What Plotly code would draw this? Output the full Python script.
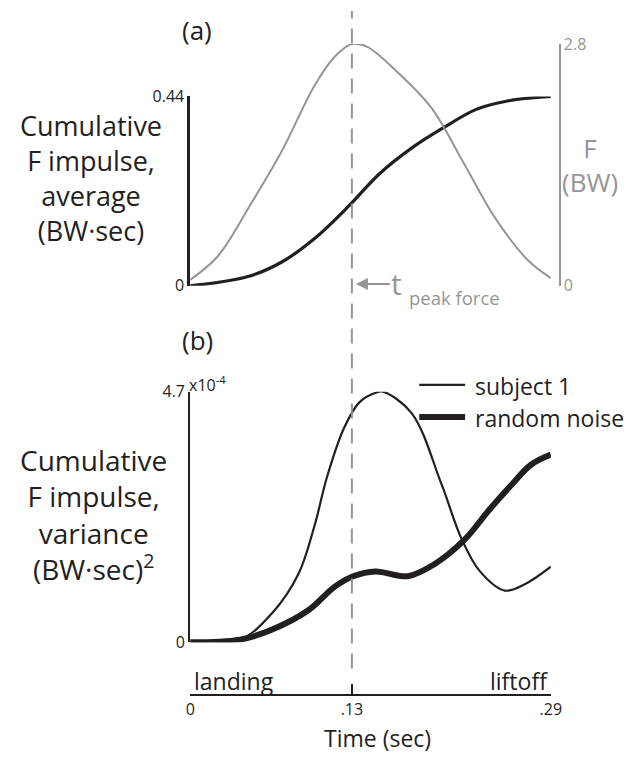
import plotly.graph_objects as go

# ---------------- data ----------------
# Panel (a): ground reaction force (BW) and cumulative impulse average (BW*sec)
t_force = [0.0, 0.022, 0.048, 0.074, 0.100, 0.116, 0.130, 0.142, 0.167, 0.194, 0.220, 0.245, 0.272, 0.290]
force_bw = [0.07, 0.34, 0.93, 1.57, 2.32, 2.65, 2.80, 2.77, 2.47, 2.06, 1.42, 0.79, 0.29, 0.09]

t_avg = [0.0, 0.048, 0.074, 0.100, 0.128, 0.152, 0.178, 0.204, 0.230, 0.256, 0.290]
impulse_avg = [0.0, 0.023, 0.056, 0.110, 0.187, 0.260, 0.320, 0.368, 0.410, 0.430, 0.440]

# Panel (b): cumulative impulse variance, in units of 1e-4 (BW*sec)^2
t_subj = [0.0, 0.040, 0.066, 0.087, 0.100, 0.110, 0.1235, 0.136, 0.149, 0.155, 0.178,
          0.202, 0.218, 0.233, 0.253, 0.269, 0.290]
var_subject1 = [0.0, 0.05, 0.55, 1.28, 2.19, 3.10, 4.01, 4.50, 4.68, 4.70, 4.30,
                2.97, 1.95, 1.33, 0.97, 1.09, 1.42]

t_noise = [0.0, 0.040, 0.066, 0.095, 0.116, 0.131, 0.149, 0.175, 0.196, 0.220, 0.241, 0.259, 0.274, 0.290]
var_noise = [0.0, 0.05, 0.24, 0.60, 1.04, 1.24, 1.33, 1.24, 1.46, 1.91, 2.50, 2.97, 3.33, 3.52]

t_peak = 0.13
x_ticks = [0, 0.13, 0.29]
x_ticklabels = ["0", ".13", ".29"]
avg_ticks = [0, 0.44]
force_ticks = [0, 2.8]
var_ticks = [0, 4.7]

# ---------------- style ----------------
W, H = 634, 765
BLACK = "#231f20"
GRAY = "#959595"
FONT = "Open Sans"

def px(x):
    return x / W

def py(y):
    return 1 - y / H

fig = go.Figure()

fig.add_trace(go.Scatter(x=t_force, y=force_bw, xaxis="x", yaxis="y2", mode="lines",
                         line=dict(color=GRAY, width=2, shape="spline", smoothing=1.0),
                         cliponaxis=False, showlegend=False, name="F"))
fig.add_trace(go.Scatter(x=t_avg, y=impulse_avg, xaxis="x", yaxis="y", mode="lines",
                         line=dict(color=BLACK, width=3.2, shape="spline", smoothing=1.0),
                         cliponaxis=False, showlegend=False, name="average"))
fig.add_trace(go.Scatter(x=t_subj, y=var_subject1, xaxis="x2", yaxis="y3", mode="lines",
                         line=dict(color=BLACK, width=2.2, shape="spline", smoothing=1.0),
                         cliponaxis=False, showlegend=False, name="subject 1"))
fig.add_trace(go.Scatter(x=t_noise, y=var_noise, xaxis="x2", yaxis="y3", mode="lines",
                         line=dict(color=BLACK, width=6, shape="spline", smoothing=1.0),
                         cliponaxis=False, showlegend=False, name="random noise"))

xdom = [px(190), px(560)]
tickfont = dict(family=FONT, size=16, color=BLACK)

fig.update_layout(
    width=W, height=H,
    margin=dict(l=0, r=0, t=0, b=0),
    paper_bgcolor="white", plot_bgcolor="rgba(0,0,0,0)",
    showlegend=False,
    font=dict(family=FONT, color=BLACK),
    xaxis=dict(domain=xdom, range=[0, 0.29], visible=False, anchor="y"),
    yaxis=dict(domain=[py(283), py(88)], range=[0, 0.44], anchor="x",
               showgrid=False, zeroline=False, showline=True, linecolor=BLACK, linewidth=2.5,
               ticks="inside", ticklen=5, tickwidth=2, tickcolor=BLACK,
               tickvals=avg_ticks, ticktext=["0", "0.44"], tickfont=tickfont),
    yaxis2=dict(domain=[py(283), py(34)], range=[0, 2.8], anchor="free", position=px(569),
                side="right", showgrid=False, zeroline=False, showline=True,
                linecolor=GRAY, linewidth=2, ticks="inside", ticklen=5, tickwidth=2,
                tickcolor=GRAY, tickvals=force_ticks, ticktext=["0", "2.8"],
                tickfont=dict(family=FONT, size=16, color=GRAY)),
    xaxis2=dict(domain=xdom, range=[0, 0.29], anchor="free", position=py(704),
                showgrid=False, zeroline=False, showline=True, linecolor=BLACK, linewidth=2,
                ticks="inside", ticklen=10, tickwidth=2, tickcolor=BLACK,
                tickvals=x_ticks, ticktext=x_ticklabels, tickfont=tickfont),
    yaxis3=dict(domain=[py(650), py(392)], range=[0, 4.7], anchor="x2",
                showgrid=False, zeroline=False, showline=True, linecolor=BLACK, linewidth=2,
                ticks="inside", ticklen=5, tickwidth=2, tickcolor=BLACK,
                tickvals=var_ticks, ticktext=["0", "4.7"], tickfont=tickfont),
)

# dashed line at time of peak force
fig.add_shape(type="line", xref="x2", yref="paper", x0=t_peak, x1=t_peak,
              y0=py(677), y1=1, line=dict(color=GRAY, width=2, dash="15px,10px"))

# legend samples
fig.add_shape(type="line", xref="paper", yref="paper", x0=px(425), x1=px(472),
              y0=py(385), y1=py(385), line=dict(color=BLACK, width=2.2))
fig.add_shape(type="line", xref="paper", yref="paper", x0=px(425), x1=px(472),
              y0=py(418), y1=py(418), line=dict(color=BLACK, width=6))

def ann(text, x, y, size, color=BLACK, xanchor="center", yanchor="middle"):
    fig.add_annotation(text=text, x=px(x), y=py(y), xref="paper", yref="paper",
                       showarrow=False, xanchor=xanchor, yanchor=yanchor, align="center",
                       font=dict(family=FONT, size=size, color=color))

ann("(a)", 197, 20, 26)
ann("(b)", 197, 339, 26)

ann("Cumulative<br>F impulse,<br>average<br>(BW·sec)", 88, 172, 27)
ann("Cumulative<br>F impulse,<br>variance<br>(BW·sec)<sup>2</sup>", 91, 518, 28)

ann("F<br>(BW)", 600, 159, 26, GRAY)

ann("x10<sup>-4</sup>", 187, 384, 16, xanchor="left")

ann("subject 1", 480, 386, 23, xanchor="left")
ann("random noise", 480, 419, 23, xanchor="left")

ann("landing", 192, 690, 23, xanchor="left")
ann("liftoff", 559, 690, 23, xanchor="right")
ann("Time (sec)", 382, 749, 23)

# arrow pointing to the time of peak force, labelled "t"
fig.add_annotation(text="t", x=px(360), y=py(281), xref="paper", yref="paper",
                   ax=41, ay=0, axref="pixel", ayref="pixel", showarrow=True,
                   arrowhead=2, arrowsize=1.2, arrowwidth=2, arrowcolor=GRAY, standoff=0,
                   font=dict(family=FONT, size=30, color=GRAY))
ann("peak force", 412, 295, 18.5, GRAY, xanchor="left")

fig.write_html("out.html")
